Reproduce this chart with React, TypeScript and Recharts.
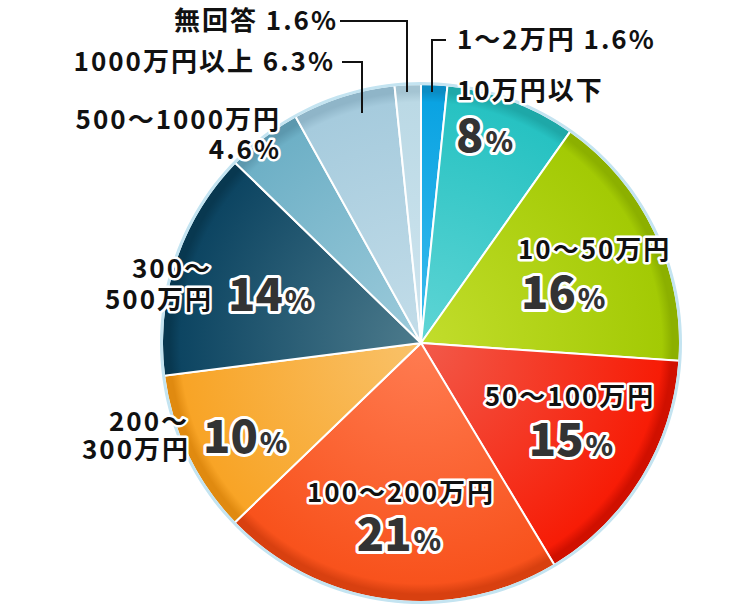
import { PieChart, Pie, Cell } from 'recharts';

const CATEGORIES = [
  '1～2万円',
  '10万円以下',
  '10～50万円',
  '50～100万円',
  '100～200万円',
  '200～300万円',
  '300～500万円',
  '500～1000万円',
  '1000万円以上',
  '無回答',
];
const SHARES = [1.6, 8, 16, 15, 21, 10, 14, 4.6, 6.3, 1.6];

const INNER_COLORS = ['#3dbdee', '#5fd5d5', '#c2dd2c', '#f25a4a', '#ff7c52', '#f9c26a', '#4d7b8c', '#9dcbdb', '#c3dde9', '#cfe5ef'];
const OUTER_COLORS = ['#0aa3e2', '#27c2c2', '#a3ca04', '#f71c06', '#f8521c', '#f8a426', '#0d4562', '#6eb0c6', '#a6cbdd', '#bbd9e5'];
const RIM_COLORS = ['#0a8cc4', '#1ea8a8', '#8cb000', '#d01000', '#d84010', '#e08a10', '#083850', '#5c98ae', '#8fb5c8', '#a4c4d2'];

const data = CATEGORIES.map((name, i) => ({ name, value: SHARES[i] }));

const CX = 421;
const CY = 343;
const R = 259;

type Piece = { kind: 'name' | 'name1' | 'name2' | 'pct' | 'pctSmall' | 'full'; dx: number; dy: number; anchor: 'start' | 'middle' | 'end' };
type Layout = { pieces: Piece[]; split?: number; leader?: [number, number][] };

// label placement relative to pie centre (dy = vertical centre of the text line)
const LABEL_LAYOUT: Layout[] = [
  { pieces: [{ kind: 'full', dx: 36, dy: -303, anchor: 'start' }], leader: [[11, -251], [11, -303], [25, -303]] },
  { pieces: [{ kind: 'name', dx: 36, dy: -252, anchor: 'start' }, { kind: 'pct', dx: 35, dy: -207, anchor: 'start' }] },
  { pieces: [{ kind: 'name', dx: 97, dy: -93, anchor: 'start' }, { kind: 'pct', dx: 100, dy: -50, anchor: 'start' }] },
  { pieces: [{ kind: 'name', dx: 149, dy: 54, anchor: 'middle' }, { kind: 'pct', dx: 150, dy: 97, anchor: 'middle' }] },
  { pieces: [{ kind: 'name', dx: -20, dy: 150, anchor: 'middle' }, { kind: 'pct', dx: -22, dy: 192, anchor: 'middle' }] },
  { split: 4, pieces: [{ kind: 'name1', dx: -232, dy: 79, anchor: 'end' }, { kind: 'name2', dx: -231, dy: 107, anchor: 'end' }, { kind: 'pct', dx: -218, dy: 94, anchor: 'start' }] },
  { split: 4, pieces: [{ kind: 'name1', dx: -209, dy: -74, anchor: 'end' }, { kind: 'name2', dx: -208, dy: -43, anchor: 'end' }, { kind: 'pct', dx: -193, dy: -48, anchor: 'start' }] },
  { pieces: [{ kind: 'name', dx: -140, dy: -223, anchor: 'end' }, { kind: 'pctSmall', dx: -140, dy: -193, anchor: 'end' }] },
  { pieces: [{ kind: 'full', dx: -86, dy: -281, anchor: 'end' }], leader: [[-59, -230], [-59, -281], [-79, -281]] },
  { pieces: [{ kind: 'full', dx: -83, dy: -322, anchor: 'end' }], leader: [[-14, -251], [-14, -322], [-81, -322]] },
];

const FONT = "'Noto Sans CJK JP', 'Noto Sans', sans-serif";
const halo = { stroke: '#fff', strokeWidth: 5, strokeLinejoin: 'round' as const, paintOrder: 'stroke' as const };

function renderLabel(props: any) {
  const index: number = props.index;
  const cx = typeof props.cx === 'number' ? props.cx : CX;
  const cy = typeof props.cy === 'number' ? props.cy : CY;
  const lay = LABEL_LAYOUT[index];
  const name = CATEGORIES[index];
  const value = SHARES[index];
  const split = lay.split ?? name.length;

  return (
    <g key={`lbl-${index}`}>
      {lay.leader && (
        <polyline
          points={lay.leader.map(([x, y]) => `${cx + x},${cy + y}`).join(' ')}
          fill="none"
          stroke="#111"
          strokeWidth={2}
        />
      )}
      {lay.pieces.map((p, k) => {
        const x = cx + p.dx;
        if (p.kind === 'pct') {
          return (
            <text key={k} x={x} y={cy + p.dy + 16} textAnchor={p.anchor} fontFamily={FONT} fontWeight={900} fill="#333" {...halo} strokeWidth={6}>
              <tspan fontSize={45}>{value}</tspan>
              <tspan fontSize={28} dx={2}>%</tspan>
            </text>
          );
        }
        let txt = name;
        if (p.kind === 'name1') txt = name.slice(0, split);
        if (p.kind === 'name2') txt = name.slice(split);
        if (p.kind === 'pctSmall') txt = `${value}%`;
        if (p.kind === 'full') txt = `${name} ${value}%`;
        return (
          <text key={k} x={x} y={cy + p.dy + 9} textAnchor={p.anchor} fontFamily={FONT} fontSize={26} fontWeight={700} letterSpacing={2} fill="#111" {...halo}>
            {txt}
          </text>
        );
      })}
    </g>
  );
}

export default function App() {
  return (
    <div style={{ position: 'absolute', left: 0, top: 0, width: 750, height: 616, background: '#fff' }}>
      <PieChart width={750} height={616} margin={{ top: 0, right: 0, bottom: 0, left: 0 }}>
        <defs>
          {CATEGORIES.map((_, i) => (
            <radialGradient key={i} id={`slice${i}`} gradientUnits="userSpaceOnUse" cx={CX} cy={CY} r={R} fx={CX} fy={CY}>
              <stop offset="0%" stopColor={INNER_COLORS[i]} />
              <stop offset="93%" stopColor={OUTER_COLORS[i]} />
              <stop offset="97%" stopColor={RIM_COLORS[i]} />
              <stop offset="100%" stopColor={RIM_COLORS[i]} />
            </radialGradient>
          ))}
        </defs>
        <Pie
          data={data}
          dataKey="value"
          nameKey="name"
          cx={CX}
          cy={CY}
          outerRadius={R}
          startAngle={90}
          endAngle={-270}
          stroke="#fff"
          strokeWidth={2}
          isAnimationActive={false}
          labelLine={false}
          label={renderLabel}
        >
          {data.map((_, i) => (
            <Cell key={i} fill={`url(#slice${i})`} />
          ))}
        </Pie>
        <Pie
          data={[{ name: 'rim', value: 1 }]}
          dataKey="value"
          cx={CX}
          cy={CY}
          innerRadius={R - 1}
          outerRadius={R + 2}
          startAngle={90}
          endAngle={-270}
          fill="#c4e4f1"
          stroke="none"
          isAnimationActive={false}
        />
      </PieChart>
    </div>
  );
}
